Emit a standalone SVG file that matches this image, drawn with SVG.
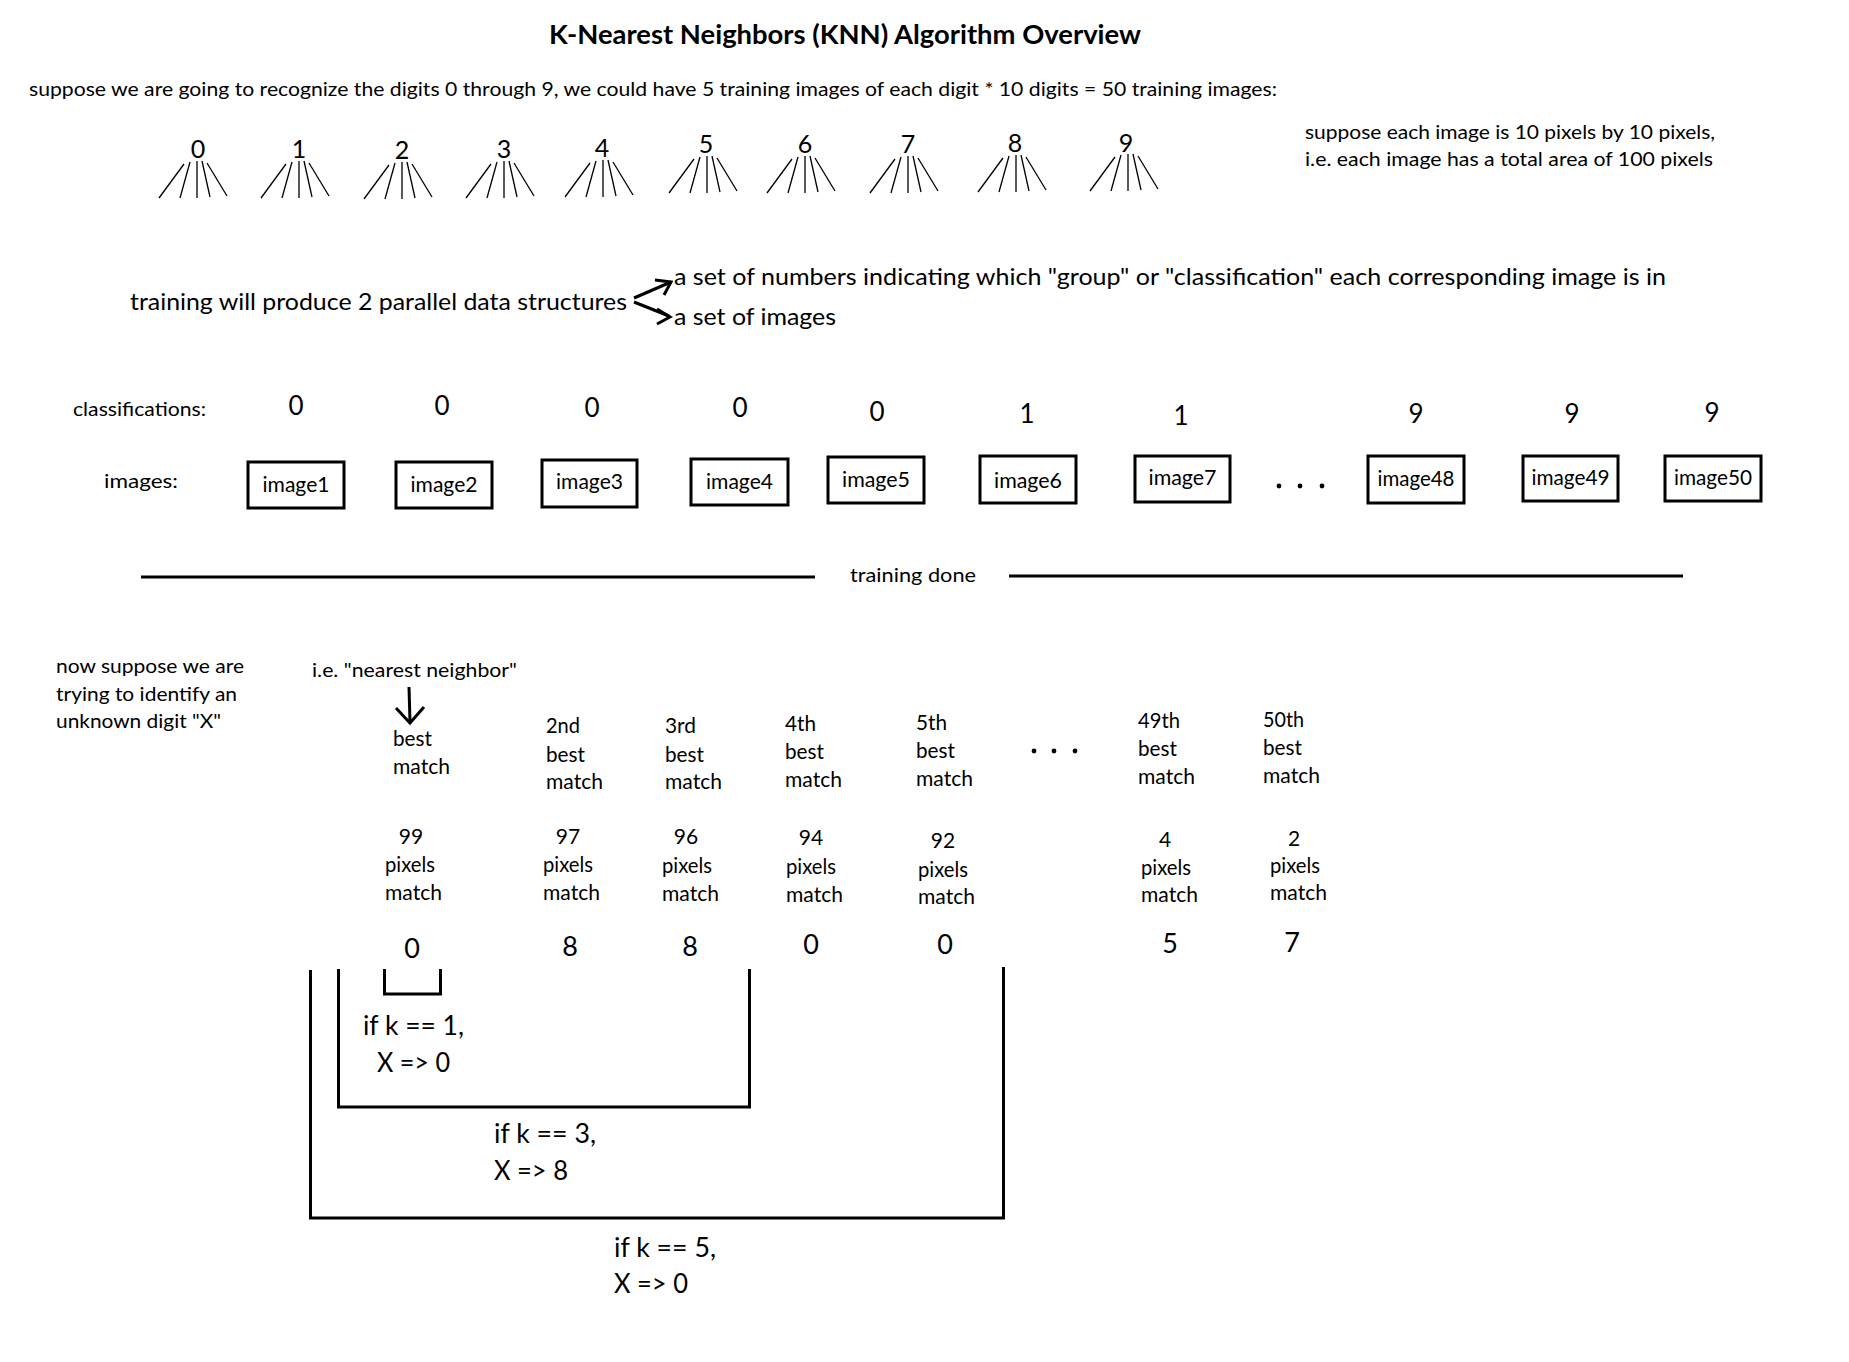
<svg xmlns="http://www.w3.org/2000/svg" xmlns:xlink="http://www.w3.org/1999/xlink" width="1849" height="1362" viewBox="0 0 1849 1362">
<style>
text { font-family: Lato, "Open Sans", "Liberation Sans", sans-serif; fill: #000; }
.title { font-size: 26px; font-weight: bold; }
.s19 { font-size: 19px; }
.s20 { font-size: 20px; }
.s21 { font-size: 21px; }
.s23 { font-size: 23px; }
.s24 { font-size: 24px; }
.s25 { font-size: 25px; }
.s26 { font-size: 26px; }
.s27 { font-size: 27px; }
.m { text-anchor: middle; }
.ln { stroke: #000; stroke-width: 3; fill: none; }
.box { stroke: #000; stroke-width: 3; fill: #fff; }
.fan line { stroke: #000; stroke-width: 1.3; }
.dot { fill: #000; }
</style>
<defs>
  <g id="fan" class="fan">
    <line x1="-14" y1="6" x2="-39" y2="40"/>
    <line x1="-8" y1="4" x2="-18" y2="40"/>
    <line x1="-1" y1="3" x2="-1" y2="40"/>
    <line x1="4" y1="3" x2="12" y2="39"/>
    <line x1="9" y1="5" x2="29" y2="38"/>
  </g>
</defs>
<rect width="1849" height="1362" fill="#fff"/>

<g id="title">
  <text class="title m" x="845" y="44" textLength="592" lengthAdjust="spacingAndGlyphs">K-Nearest Neighbors (KNN) Algorithm Overview</text>
</g>
<g id="intro">
  <text class="s20" x="29" y="96" textLength="1248" lengthAdjust="spacingAndGlyphs">suppose we are going to recognize the digits 0 through 9, we could have 5 training images of each digit * 10 digits = 50 training images:</text>
</g>
<g id="pixel-note">
  <text class="s20" x="1305" y="139" textLength="410" lengthAdjust="spacingAndGlyphs">suppose each image is 10 pixels by 10 pixels,</text>
  <text class="s20" x="1305" y="166" textLength="408" lengthAdjust="spacingAndGlyphs">i.e. each image has a total area of 100 pixels</text>
</g>

<g id="digit-fans">
  <text class="s25 m" x="198" y="158">0</text><use xlink:href="#fan" x="198" y="158"/>
  <text class="s25 m" x="299" y="158">1</text><use xlink:href="#fan" x="300" y="158"/>
  <text class="s25 m" x="402" y="159">2</text><use xlink:href="#fan" x="403" y="159"/>
  <text class="s25 m" x="504" y="158">3</text><use xlink:href="#fan" x="505" y="158"/>
  <text class="s25 m" x="602" y="157">4</text><use xlink:href="#fan" x="604" y="157"/>
  <text class="s25 m" x="706" y="153">5</text><use xlink:href="#fan" x="708" y="153"/>
  <text class="s25 m" x="805" y="153">6</text><use xlink:href="#fan" x="806" y="153"/>
  <text class="s25 m" x="908" y="153">7</text><use xlink:href="#fan" x="909" y="153"/>
  <text class="s25 m" x="1015" y="152">8</text><use xlink:href="#fan" x="1017" y="152"/>
  <text class="s25 m" x="1126" y="152">9</text><use xlink:href="#fan" x="1129" y="151"/>
</g>

<g id="training-produces">
  <text class="s24" x="130" y="310" textLength="497" lengthAdjust="spacingAndGlyphs">training will produce 2 parallel data structures</text>
</g>
<g id="set-numbers">
  <text class="s24" x="674" y="285" textLength="992" lengthAdjust="spacingAndGlyphs">a set of numbers indicating which "group" or "classification" each corresponding image is in</text>
</g>
<g id="set-images">
  <text class="s24" x="674" y="325" textLength="162" lengthAdjust="spacingAndGlyphs">a set of images</text>
</g>

<g id="classifications">
  <text class="s20" x="73" y="416" textLength="133" lengthAdjust="spacingAndGlyphs">classifications:</text>
  <text class="s26 m" x="296" y="415">0</text>
  <text class="s26 m" x="442" y="415">0</text>
  <text class="s26 m" x="592" y="417">0</text>
  <text class="s26 m" x="740" y="417">0</text>
  <text class="s26 m" x="877" y="421">0</text>
  <text class="s26 m" x="1027" y="423">1</text>
  <text class="s26 m" x="1181" y="425">1</text>
  <text class="s26 m" x="1416" y="423">9</text>
  <text class="s26 m" x="1572" y="423">9</text>
  <text class="s26 m" x="1712" y="422">9</text>
</g>

<g id="images-label">
  <text class="s20" x="104" y="488" textLength="74" lengthAdjust="spacingAndGlyphs">images:</text>
</g>
<g id="image1"><rect class="box" x="248" y="462" width="96" height="46"/><text class="s21 m" x="296" y="492" textLength="67" lengthAdjust="spacingAndGlyphs">image1</text></g>
<g id="image2"><rect class="box" x="396" y="462" width="96" height="46"/><text class="s21 m" x="444" y="492" textLength="67" lengthAdjust="spacingAndGlyphs">image2</text></g>
<g id="image3"><rect class="box" x="542" y="460" width="95" height="47"/><text class="s21 m" x="589.5" y="489" textLength="67" lengthAdjust="spacingAndGlyphs">image3</text></g>
<g id="image4"><rect class="box" x="691" y="459" width="97" height="46"/><text class="s21 m" x="739.5" y="489" textLength="67" lengthAdjust="spacingAndGlyphs">image4</text></g>
<g id="image5"><rect class="box" x="828" y="457" width="96" height="46"/><text class="s21 m" x="876" y="487" textLength="68" lengthAdjust="spacingAndGlyphs">image5</text></g>
<g id="image6"><rect class="box" x="980" y="456" width="96" height="47"/><text class="s21 m" x="1028" y="488" textLength="68" lengthAdjust="spacingAndGlyphs">image6</text></g>
<g id="image7"><rect class="box" x="1135" y="456" width="95" height="46"/><text class="s21 m" x="1182.5" y="485" textLength="68" lengthAdjust="spacingAndGlyphs">image7</text></g>
<g id="ellipsis-top">
  <circle class="dot" cx="1279" cy="486" r="2.4"/>
  <circle class="dot" cx="1300" cy="486" r="2.4"/>
  <circle class="dot" cx="1322" cy="486" r="2.4"/>
</g>
<g id="image48"><rect class="box" x="1368" y="456" width="96" height="47"/><text class="s21 m" x="1416" y="486" textLength="77" lengthAdjust="spacingAndGlyphs">image48</text></g>
<g id="image49"><rect class="box" x="1523" y="456" width="95" height="45"/><text class="s21 m" x="1570.5" y="485" textLength="78" lengthAdjust="spacingAndGlyphs">image49</text></g>
<g id="image50"><rect class="box" x="1665" y="456" width="96" height="45"/><text class="s21 m" x="1713" y="485" textLength="78" lengthAdjust="spacingAndGlyphs">image50</text></g>

<g id="training-done">
  <line class="ln" x1="141" y1="577" x2="815" y2="577"/>
  <line class="ln" x1="1009" y1="576" x2="1683" y2="576"/>
  <text class="s20" x="850" y="582" textLength="126" lengthAdjust="spacingAndGlyphs">training done</text>
</g>

<g id="unknown-note">
  <text class="s20" x="56" y="673" textLength="188" lengthAdjust="spacingAndGlyphs">now suppose we are</text>
  <text class="s20" x="56" y="701" textLength="181" lengthAdjust="spacingAndGlyphs">trying to identify an</text>
  <text class="s20" x="56" y="728" textLength="165" lengthAdjust="spacingAndGlyphs">unknown digit "X"</text>
</g>
<g id="nearest-neighbor">
  <text class="s20" x="312" y="677" textLength="205" lengthAdjust="spacingAndGlyphs">i.e. "nearest neighbor"</text>
</g>

<g id="match1">
  <text class="s21" x="393" y="746" textLength="39" lengthAdjust="spacingAndGlyphs">best</text>
  <text class="s21" x="393" y="774" textLength="57" lengthAdjust="spacingAndGlyphs">match</text>
  <text class="s21 m" x="411" y="844">99</text>
  <text class="s21" x="385" y="872" textLength="50" lengthAdjust="spacingAndGlyphs">pixels</text>
  <text class="s21" x="385" y="900" textLength="57" lengthAdjust="spacingAndGlyphs">match</text>
  <text class="s27 m" x="412" y="958">0</text>
</g>
<g id="match2">
  <text class="s21" x="546" y="733" textLength="34" lengthAdjust="spacingAndGlyphs">2nd</text>
  <text class="s21" x="546" y="762" textLength="39" lengthAdjust="spacingAndGlyphs">best</text>
  <text class="s21" x="546" y="789" textLength="57" lengthAdjust="spacingAndGlyphs">match</text>
  <text class="s21 m" x="568" y="844">97</text>
  <text class="s21" x="543" y="872" textLength="50" lengthAdjust="spacingAndGlyphs">pixels</text>
  <text class="s21" x="543" y="900" textLength="57" lengthAdjust="spacingAndGlyphs">match</text>
  <text class="s27 m" x="570" y="956">8</text>
</g>
<g id="match3">
  <text class="s21" x="665" y="733" textLength="31" lengthAdjust="spacingAndGlyphs">3rd</text>
  <text class="s21" x="665" y="762" textLength="39" lengthAdjust="spacingAndGlyphs">best</text>
  <text class="s21" x="665" y="789" textLength="57" lengthAdjust="spacingAndGlyphs">match</text>
  <text class="s21 m" x="686" y="844">96</text>
  <text class="s21" x="662" y="873" textLength="50" lengthAdjust="spacingAndGlyphs">pixels</text>
  <text class="s21" x="662" y="901" textLength="57" lengthAdjust="spacingAndGlyphs">match</text>
  <text class="s27 m" x="690" y="956">8</text>
</g>
<g id="match4">
  <text class="s21" x="785" y="731" textLength="31" lengthAdjust="spacingAndGlyphs">4th</text>
  <text class="s21" x="785" y="759" textLength="39" lengthAdjust="spacingAndGlyphs">best</text>
  <text class="s21" x="785" y="787" textLength="57" lengthAdjust="spacingAndGlyphs">match</text>
  <text class="s21 m" x="811" y="845">94</text>
  <text class="s21" x="786" y="874" textLength="50" lengthAdjust="spacingAndGlyphs">pixels</text>
  <text class="s21" x="786" y="902" textLength="57" lengthAdjust="spacingAndGlyphs">match</text>
  <text class="s27 m" x="811" y="954">0</text>
</g>
<g id="match5">
  <text class="s21" x="916" y="730" textLength="31" lengthAdjust="spacingAndGlyphs">5th</text>
  <text class="s21" x="916" y="758" textLength="39" lengthAdjust="spacingAndGlyphs">best</text>
  <text class="s21" x="916" y="786" textLength="57" lengthAdjust="spacingAndGlyphs">match</text>
  <text class="s21 m" x="943" y="848">92</text>
  <text class="s21" x="918" y="877" textLength="50" lengthAdjust="spacingAndGlyphs">pixels</text>
  <text class="s21" x="918" y="904" textLength="57" lengthAdjust="spacingAndGlyphs">match</text>
  <text class="s27 m" x="945" y="954">0</text>
</g>
<g id="ellipsis-bottom">
  <circle class="dot" cx="1034" cy="751" r="2.4"/>
  <circle class="dot" cx="1054" cy="751" r="2.4"/>
  <circle class="dot" cx="1075" cy="751" r="2.4"/>
</g>
<g id="match49">
  <text class="s21" x="1138" y="728" textLength="42" lengthAdjust="spacingAndGlyphs">49th</text>
  <text class="s21" x="1138" y="756" textLength="39" lengthAdjust="spacingAndGlyphs">best</text>
  <text class="s21" x="1138" y="784" textLength="57" lengthAdjust="spacingAndGlyphs">match</text>
  <text class="s21 m" x="1165" y="847">4</text>
  <text class="s21" x="1141" y="875" textLength="50" lengthAdjust="spacingAndGlyphs">pixels</text>
  <text class="s21" x="1141" y="902" textLength="57" lengthAdjust="spacingAndGlyphs">match</text>
  <text class="s27 m" x="1170" y="953">5</text>
</g>
<g id="match50">
  <text class="s21" x="1263" y="727" textLength="41" lengthAdjust="spacingAndGlyphs">50th</text>
  <text class="s21" x="1263" y="755" textLength="39" lengthAdjust="spacingAndGlyphs">best</text>
  <text class="s21" x="1263" y="783" textLength="57" lengthAdjust="spacingAndGlyphs">match</text>
  <text class="s21 m" x="1294" y="846">2</text>
  <text class="s21" x="1270" y="873" textLength="50" lengthAdjust="spacingAndGlyphs">pixels</text>
  <text class="s21" x="1270" y="900" textLength="57" lengthAdjust="spacingAndGlyphs">match</text>
  <text class="s27 m" x="1292" y="952">7</text>
</g>

<g id="k1">
  <path class="ln" d="M384.5,969 V994 H440.5 V969"/>
  <text class="s26" x="363" y="1035" textLength="101" lengthAdjust="spacingAndGlyphs">if k == 1,</text>
  <text class="s26" x="377" y="1072" textLength="73" lengthAdjust="spacingAndGlyphs">X =&gt; 0</text>
</g>
<g id="k3">
  <path class="ln" d="M338.5,969 V1107 H749.5 V969"/>
  <text class="s26" x="494" y="1143" textLength="102" lengthAdjust="spacingAndGlyphs">if k == 3,</text>
  <text class="s26" x="494" y="1180" textLength="74" lengthAdjust="spacingAndGlyphs">X =&gt; 8</text>
</g>
<g id="k5">
  <path class="ln" d="M310.5,970 V1218 H1003.5 V967"/>
  <text class="s26" x="614" y="1257" textLength="102" lengthAdjust="spacingAndGlyphs">if k == 5,</text>
  <text class="s26" x="614" y="1293" textLength="74" lengthAdjust="spacingAndGlyphs">X =&gt; 0</text>
</g>

<g id="connectors">
  <path class="ln" d="M634,298 L671,282"/>
  <path class="ln" d="M655,280 L671,282 L664,295"/>
  <path class="ln" d="M634,302 L669,316"/>
  <path class="ln" d="M657,309 L670,317 L657,324"/>
  <path class="ln" d="M409,687 L410,722"/>
  <path class="ln" d="M396,708 L410,723 L424,707"/>
</g>
</svg>
